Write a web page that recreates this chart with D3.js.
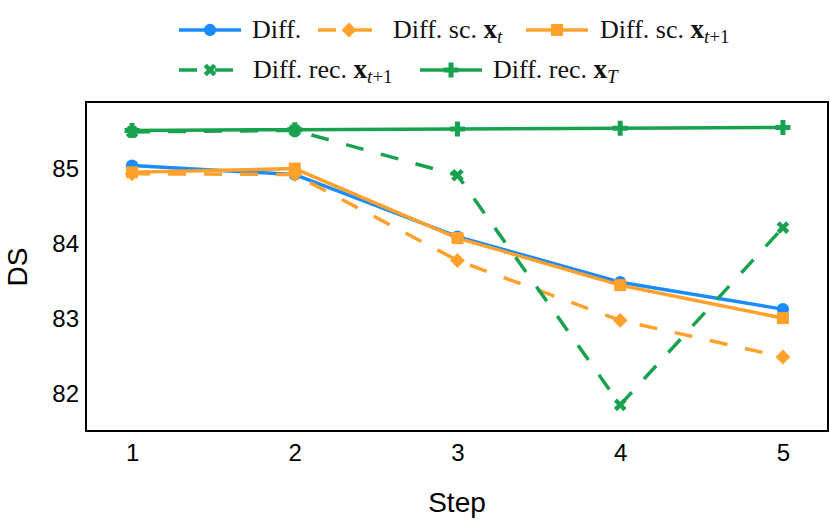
<!DOCTYPE html>
<html>
<head>
<meta charset="utf-8">
<script src="https://cdn.jsdelivr.net/npm/d3@7/dist/d3.min.js"></script>
<style>
  body { margin: 0; background: #fff; }
  svg { display: block; }
</style>
</head>
<body>
<svg id="chart" width="830" height="520"></svg>
<script>
// ---- data ----
const steps = [1, 2, 3, 4, 5];
const diff        = [85.05, 84.93, 84.10, 83.49, 83.13];
const diffScXt    = [84.94, 84.93, 83.78, 82.98, 82.49];
const diffScXt1   = [84.96, 85.01, 84.08, 83.45, 83.01];
const diffRecXt1  = [85.50, 85.52, 84.92, 81.85, 84.22];
const diffRecXT   = [85.52, 85.53, 85.54, 85.55, 85.56];
const yTicks = [82, 83, 84, 85];
const xTicks = [1, 2, 3, 4, 5];

const blue = "#1a8cff", orange = "#ffa12b", green = "#18a24e";

const series = [
  { name: "diff", values: diff, color: blue, dashed: false, marker: "circle",
    label: [{ t: "Diff." }] },
  { name: "scxt", values: diffScXt, color: orange, dashed: true, marker: "diamond",
    label: [{ t: "Diff. sc. " }, { t: "x", b: true }, { t: "t", sub: true, i: true }] },
  { name: "scxt1", values: diffScXt1, color: orange, dashed: false, marker: "square",
    label: [{ t: "Diff. sc. " }, { t: "x", b: true }, { t: "t", sub: true, i: true }, { t: "+1", sub2: true }] },
  { name: "recxt1", values: diffRecXt1, color: green, dashed: true, marker: "x",
    label: [{ t: "Diff. rec. " }, { t: "x", b: true }, { t: "t", sub: true, i: true }, { t: "+1", sub2: true }] },
  { name: "recxT", values: diffRecXT, color: green, dashed: false, marker: "plus",
    label: [{ t: "Diff. rec. " }, { t: "x", b: true }, { t: "T", sub: true, i: true }] }
];

// ---- layout ----
const svg = d3.select("#chart");
const L = 86, R = 828, T = 102, B = 431;
const x = d3.scaleLinear().domain([0.717, 5.277]).range([L, R]);
const y = d3.scaleLinear().domain([81.5, 85.9]).range([B, T]);

const dash = "18,18";
const sansFont = "'Liberation Sans', Arial, sans-serif";
const serifFont = "'Liberation Serif', 'DejaVu Serif', serif";

function markerPath(type) {
  switch (type) {
    case "circle":  return { d: d3.symbol(d3.symbolCircle, 120)(), rot: 0 };
    case "square":  return { d: d3.symbol(d3.symbolSquare, 144)(), rot: 0 };
    case "diamond": return { d: d3.symbol(d3.symbolSquare, 110)(), rot: 45 };
    case "x":       return { d: d3.symbol(d3.symbolCross, 100)(), rot: 45 };
    case "plus":    return { d: d3.symbol(d3.symbolCross, 125)(), rot: 0 };
  }
}

// axes (labels only, no tick marks)
const yAxis = d3.axisLeft(y).tickValues(yTicks).tickSize(0).tickPadding(7).tickFormat(d3.format("d"));
const xAxis = d3.axisBottom(x).tickValues(xTicks).tickSize(0).tickPadding(13).tickFormat(d3.format("d"));

const gy = svg.append("g").attr("transform", `translate(${L},0)`).call(yAxis);
const gx = svg.append("g").attr("transform", `translate(0,${B})`).call(xAxis);
[gx, gy].forEach(g => {
  g.select(".domain").remove();
  g.selectAll("text").attr("font-family", sansFont).attr("font-size", 24).attr("fill", "#000");
});

// plot clip
svg.append("defs").append("clipPath").attr("id", "clip")
  .append("rect").attr("x", L).attr("y", T).attr("width", R - L).attr("height", B - T);

const plot = svg.append("g").attr("clip-path", "url(#clip)");
const line = d3.line().x((d, i) => x(steps[i])).y(d => y(d));

series.forEach(s => {
  plot.append("path")
    .attr("d", line(s.values))
    .attr("fill", "none")
    .attr("stroke", s.color)
    .attr("stroke-width", 3.5)
    .attr("stroke-linejoin", "round")
    .attr("stroke-dasharray", s.dashed ? dash : null);
  const m = markerPath(s.marker);
  plot.selectAll(null).data(s.values).enter().append("path")
    .attr("d", m.d)
    .attr("fill", s.color)
    .attr("transform", (d, i) => `translate(${x(steps[i])},${y(d)}) rotate(${m.rot})`);
});

// frame
svg.append("rect").attr("x", L).attr("y", T).attr("width", R - L).attr("height", B - T)
  .attr("fill", "none").attr("stroke", "#000").attr("stroke-width", 2);

// axis titles
svg.append("text").attr("x", 457).attr("y", 512).attr("text-anchor", "middle")
  .attr("font-family", sansFont).attr("font-size", 28).text("Step");
svg.append("text").attr("transform", "translate(27,267) rotate(-90)").attr("text-anchor", "middle")
  .attr("font-family", sansFont).attr("font-size", 28).text("DS");

// legend
const legendPos = [
  { x0: 179, y: 30, tx: 252 },
  { x0: 318, y: 30, tx: 393 },
  { x0: 526, y: 30, tx: 600 },
  { x0: 179, y: 70, tx: 253 },
  { x0: 420, y: 70, tx: 493 }
];
const legLen = 62;
series.forEach((s, k) => {
  const p = legendPos[k];
  const g = svg.append("g");
  g.append("line").attr("x1", p.x0).attr("x2", p.x0 + legLen).attr("y1", p.y).attr("y2", p.y)
    .attr("stroke", s.color).attr("stroke-width", 3.5)
    .attr("stroke-dasharray", s.dashed ? dash : null);
  const m = markerPath(s.marker);
  g.append("path").attr("d", m.d).attr("fill", s.color)
    .attr("transform", `translate(${p.x0 + legLen / 2},${p.y}) rotate(${m.rot})`);
  const txt = g.append("text").attr("x", p.tx).attr("y", p.y + 8)
    .attr("font-family", serifFont).attr("font-size", 26).attr("fill", "#111");
  s.label.forEach(part => {
    const ts = txt.append("tspan").text(part.t);
    if (part.b) ts.attr("font-weight", "bold").attr("font-size", 27);
    if (part.i) ts.attr("font-style", "italic");
    if (part.sub) ts.attr("font-size", 19).attr("dy", 5);
    if (part.sub2) ts.attr("font-size", 19);
  });
});
</script>
</body>
</html>
